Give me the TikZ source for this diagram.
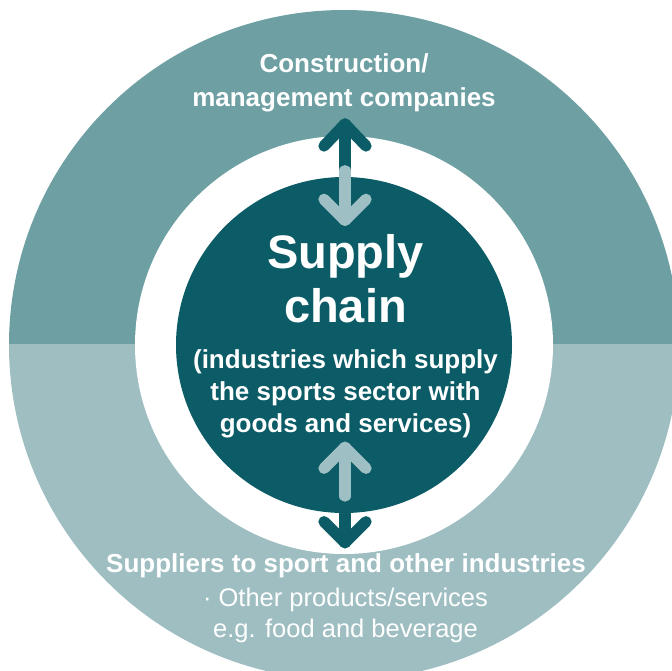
\documentclass[tikz,border=0pt]{standalone}
\usepackage{fontspec}
\setmainfont{Liberation Sans}
\definecolor{ringtop}{HTML}{6D9FA3}
\definecolor{ringbot}{HTML}{9EBEC2}
\definecolor{core}{HTML}{0B5C66}
\definecolor{lightarr}{HTML}{9EBFC3}
\begin{document}
\begin{tikzpicture}[x=1pt,y=-1pt,
  arr/.style={line width=11.3pt, line cap=round, line join=round},
  lbl/.style={text=white, inner sep=0pt, anchor=base},
  boldtxt/.style={lbl, font=\fontsize{26}{30}\selectfont\bfseries},
  thintxt/.style={lbl, font=\fontsize{25.5}{30}\selectfont},
  bigtxt/.style={lbl, font=\fontsize{47}{52}\selectfont\bfseries}]
\useasboundingbox (0,0) rectangle (672,670);
\clip (0,0) rectangle (672,670);
\coordinate (c) at (344,345);
% outer ring halves
\begin{scope}
  \clip (0,0) rectangle (672,344);
  \fill[ringtop] (c) circle (335pt);
\end{scope}
\begin{scope}
  \clip (0,344) rectangle (672,700);
  \fill[ringbot] (c) circle (335pt);
\end{scope}
\node[circle, fill=white, minimum size=418pt, inner sep=0pt] (gap) at (c) {};
\node[circle, fill=core, minimum size=336pt, inner sep=0pt] (hub) at (c) {};
% top double arrow
\coordinate (upTip) at (345,124);
\coordinate (upBase) at (345,185);
\draw[arr, core] (upBase) -- (upTip);
\draw[arr, core] (upTip) ++(-21,22) -- (upTip) -- ++(21,22);
\coordinate (dnTip) at (345,220.3);
\coordinate (dnBase) at (345,170.7);
\draw[arr, lightarr] (dnBase) -- (dnTip);
\draw[arr, lightarr] (dnTip) ++(-21,-21) -- (dnTip) -- ++(21,-21);
% bottom double arrow
\coordinate (bdTip) at (345,542.7);
\coordinate (bdBase) at (345,500);
\draw[arr, core] (bdBase) -- (bdTip);
\draw[arr, core] (bdTip) ++(-21,-21) -- (bdTip) -- ++(21,-21);
\coordinate (buTip) at (345,447.3);
\coordinate (buBase) at (345,496);
\draw[arr, lightarr] (buBase) -- (buTip);
\draw[arr, lightarr] (buTip) ++(-21,21) -- (buTip) -- ++(21,21);
% texts
\node[boldtxt] (top1) at (344,72.5) {Construction/};
\node[boldtxt] (top2) at (344,106) {management companies};
\node[bigtxt] (sc1) at (345.5,268) {Supply};
\node[bigtxt] (sc2) at (345.5,322) {chain};
\node[boldtxt] (sub1) at (345.5,368) {(industries which supply};
\node[boldtxt] (sub2) at (345.5,400) {the sports sector with};
\node[boldtxt] (sub3) at (345.5,432) {goods and services)};
\node[boldtxt] (bot1) at (346,572) {Suppliers to sport and other industries};
\node[thintxt] (bot2) at (345.5,606) {· Other products/services};
\node[thintxt] (bot3) at (345.5,637) {e.g. food and beverage};
\end{tikzpicture}
\end{document}
